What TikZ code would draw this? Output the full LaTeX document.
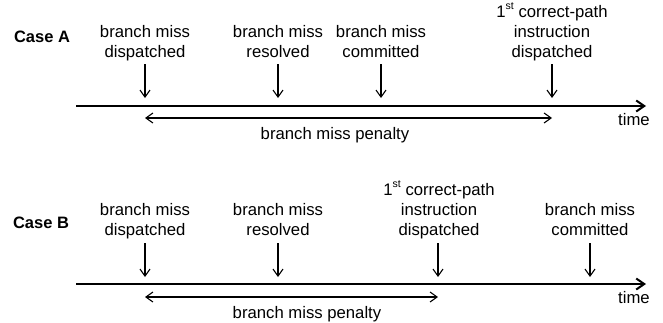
\documentclass[tikz,border=0pt]{standalone}
\usepackage{fontspec}
\setmainfont{Liberation Sans}
\usetikzlibrary{arrows.meta}
\newcommand{\stsup}{\smash{\raisebox{0.42em}{\fontsize{10.5}{10.5}\selectfont st}}}
\begin{document}
\begin{tikzpicture}[x=1pt,y=-1pt,
  lbl/.style={font=\fontsize{16.7}{20}\selectfont, align=center, anchor=base, inner sep=0pt},
  casel/.style={font=\fontsize{16.5}{20}\selectfont\bfseries, anchor=base, inner sep=0pt},
  evarrow/.style={line width=1.1pt, -{Straight Barb[length=7pt,width=10pt,line width=1.1pt]}},
  penarrow/.style={line width=1.1pt, {Straight Barb[length=7pt,width=10pt,line width=1.1pt]}-{Straight Barb[length=7pt,width=10pt,line width=1.1pt]}},
  timeline/.style={line width=2pt, -{Straight Barb[length=8pt,width=11pt,line width=2pt]}}]
\useasboundingbox (0,0) rectangle (663,322);

% ---------- Case A ----------
\node[casel] (caseA) at (42,42) {Case A};
\node[lbl] (a1) at (145,57) {branch miss\\dispatched};
\node[lbl] (a2) at (278,57) {branch miss\\resolved};
\node[lbl] (a3) at (381,57) {branch miss\\committed};
\node[lbl] (a4) at (552,57) {1\stsup{} correct-path\\instruction\\dispatched};
\coordinate (tAs) at (76,106);
\coordinate (tAe) at (646,106);
\draw[timeline] (tAs) -- (tAe);
\node[lbl] (timeA) at (634,125) {time};
\coordinate (a1t) at (145,64); \coordinate (a1b) at (145,98);
\coordinate (a2t) at (278,64); \coordinate (a2b) at (278,98);
\coordinate (a3t) at (381,64); \coordinate (a3b) at (381,98);
\coordinate (a4t) at (552,64); \coordinate (a4b) at (552,98);
\draw[evarrow] (a1t) -- (a1b);
\draw[evarrow] (a2t) -- (a2b);
\draw[evarrow] (a3t) -- (a3b);
\draw[evarrow] (a4t) -- (a4b);
\coordinate (pAs) at (145,118); \coordinate (pAe) at (552,118);
\draw[penarrow] (pAs) -- (pAe);
\node[lbl] (penA) at (335,139) {branch miss penalty};

% ---------- Case B ----------
\node[casel] (caseB) at (41,228) {Case B};
\node[lbl] (b1) at (145,235) {branch miss\\dispatched};
\node[lbl] (b2) at (278,235) {branch miss\\resolved};
\node[lbl] (b3) at (439,235) {1\stsup{} correct-path\\instruction\\dispatched};
\node[lbl] (b4) at (590,235) {branch miss\\committed};
\coordinate (tBs) at (76,284);
\coordinate (tBe) at (646,284);
\draw[timeline] (tBs) -- (tBe);
\node[lbl] (timeB) at (634,303) {time};
\coordinate (b1t) at (145,243); \coordinate (b1b) at (145,277);
\coordinate (b2t) at (278,243); \coordinate (b2b) at (278,277);
\coordinate (b3t) at (438,243); \coordinate (b3b) at (438,277);
\coordinate (b4t) at (590,243); \coordinate (b4b) at (590,277);
\draw[evarrow] (b1t) -- (b1b);
\draw[evarrow] (b2t) -- (b2b);
\draw[evarrow] (b3t) -- (b3b);
\draw[evarrow] (b4t) -- (b4b);
\coordinate (pBs) at (145,297); \coordinate (pBe) at (438,297);
\draw[penarrow] (pBs) -- (pBe);
\node[lbl] (penB) at (307,318) {branch miss penalty};
\end{tikzpicture}
\end{document}
